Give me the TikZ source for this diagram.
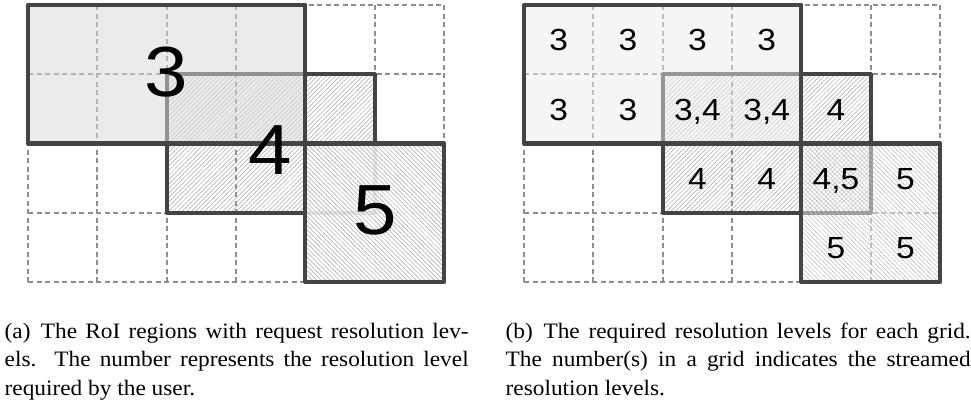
\documentclass[tikz,border=0pt]{standalone}
\usepackage{fontspec}
\newfontfamily\capfont{Liberation Serif}[FakeStretch=1.06]
\newfontfamily\numfont{Liberation Sans}[FakeStretch=1.1]
\usetikzlibrary{patterns.meta}
\definecolor{bord}{HTML}{444444}
\definecolor{gridc}{HTML}{8E8E8E}
\definecolor{regthreeL}{HTML}{D8D8D8}
\definecolor{regthreeR}{HTML}{EBEBEB}
\begin{document}
\begin{tikzpicture}[x=1pt,y=-1pt,
  gridline/.style={draw=gridc, line width=2.1pt, dash pattern=on 5pt off 3.5pt},
  border/.style={draw=bord, line width=4.2pt, line join=round},
  hatchne/.style={pattern={Lines[angle=45,distance=3.2pt,line width=0.5pt]}, pattern color=black!34},
  hatchnw/.style={pattern={Lines[angle=-45,distance=3.2pt,line width=0.5pt]}, pattern color=#1},
  biglbl/.style={font=\fontsize{71}{71}\numfont, inner sep=0pt, anchor=center},
  lbl/.style={font=\fontsize{30.5}{30.5}\numfont, inner sep=0pt, anchor=base},
  captext/.style={font=\fontsize{22}{28}\capfont, inner sep=0pt, anchor=base west}
]
\useasboundingbox (0,0) rectangle (971,407);

% ---------------- left panel ----------------
\begin{scope}[shift={(28,5)}, x=69.333pt, y=-69.25pt]
  \foreach \i in {0,...,6} \draw[gridline] (\i,0) -- (\i,4);
  \foreach \j in {0,...,4} \draw[gridline] (0,\j) -- (6,\j);
  % region 4
  \fill[hatchne] (2,1) rectangle (5,3);
  \draw[border] (2,1) rectangle (5,3);
  % region 3
  \fill[regthreeL, fill opacity=0.52] (0,0) rectangle (4,2);
  \draw[border] (0,0) rectangle (4,2);
  % region 5
  \fill[white, fill opacity=0.87] (4,2) rectangle (6,4);
  \fill[hatchnw=black!34] (4,2) rectangle (6,4);
  \draw[border] (4,2) rectangle (6,4);
\end{scope}
\node[biglbl] (lthree) at (166.5,72.5) {3};
\node[biglbl] (lfour) at (270.5,150) {4};
\node[biglbl] (lfive) at (375,210.3) {5};

% ---------------- right panel ----------------
\begin{scope}[shift={(524,5)}, x=69.333pt, y=-69.25pt]
  \foreach \i in {0,...,6} \draw[gridline] (\i,0) -- (\i,4);
  \foreach \j in {0,...,4} \draw[gridline] (0,\j) -- (6,\j);
  % region 4
  \fill[hatchne] (2,1) rectangle (5,3);
  \draw[border] (2,1) rectangle (5,3);
  % region 3
  \fill[regthreeR, fill opacity=0.5] (0,0) rectangle (4,2);
  \draw[border] (0,0) rectangle (4,2);
  % region 5
  \fill[white, fill opacity=0.45] (4,2) rectangle (6,4);
  \fill[hatchnw=black!28] (4,2) rectangle (6,4);
  \draw[border] (4,2) rectangle (6,4);
  % labels
  \node[lbl] (c00) at ([yshift=-11.3pt]0.5,0.5) {3};
  \node[lbl] (c10) at ([yshift=-11.3pt]1.5,0.5) {3};
  \node[lbl] (c20) at ([yshift=-11.3pt]2.5,0.5) {3};
  \node[lbl] (c30) at ([yshift=-11.3pt]3.5,0.5) {3};
  \node[lbl] (c01) at ([yshift=-11.3pt]0.5,1.5) {3};
  \node[lbl] (c11) at ([yshift=-11.3pt]1.5,1.5) {3};
  \node[lbl] (c21) at ([yshift=-11.3pt]2.5,1.5) {3,4};
  \node[lbl] (c31) at ([yshift=-11.3pt]3.5,1.5) {3,4};
  \node[lbl] (c41) at ([yshift=-11.3pt]4.5,1.5) {4};
  \node[lbl] (c22) at ([yshift=-11.3pt]2.5,2.5) {4};
  \node[lbl] (c32) at ([yshift=-11.3pt]3.5,2.5) {4};
  \node[lbl] (c42) at ([yshift=-11.3pt]4.5,2.5) {4,5};
  \node[lbl] (c52) at ([yshift=-11.3pt]5.5,2.5) {5};
  \node[lbl] (c43) at ([yshift=-11.3pt]4.5,3.5) {5};
  \node[lbl] (c53) at ([yshift=-11.3pt]5.5,3.5) {5};
\end{scope}

% ---------------- captions ----------------
\node[captext] (ca1) at (4.5,338.5) {\makebox[464pt][s]{(a)\hspace{2pt} The RoI regions with request resolution lev-}};
\node[captext] (ca2) at (4.5,366.8) {\makebox[464pt][s]{els.\ \ The number represents the resolution level}};
\node[captext] (ca3) at (4.5,395) {required by the user.};
\node[captext] (cb1) at (505.5,338.5) {\makebox[465pt][s]{(b)\hspace{2pt} The required resolution levels for each grid.}};
\node[captext] (cb2) at (505.5,366.8) {\makebox[465pt][s]{The number(s) in a grid indicates the streamed}};
\node[captext] (cb3) at (505.5,395) {resolution levels.};
\end{tikzpicture}
\end{document}
